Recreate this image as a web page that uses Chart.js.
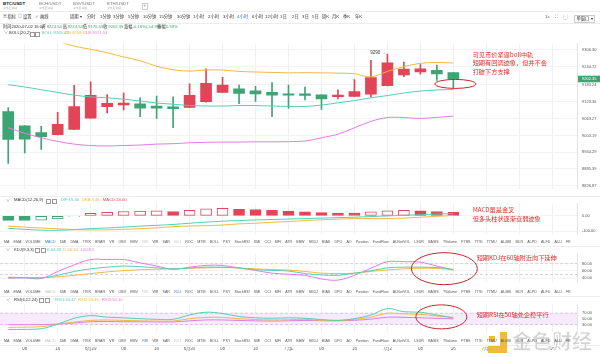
<!DOCTYPE html>
<html lang="zh-CN"><head><meta charset="utf-8">
<script src="https://cdn.jsdelivr.net/npm/chart.js@4.4.1/dist/chart.umd.min.js"></script>
<style>
html,body{margin:0;padding:0;background:#fff}
body{width:600px;height:357px;position:relative;overflow:hidden;font-family:"Liberation Sans","Noto Sans CJK SC",sans-serif;color:#333}
canvas{position:absolute;left:0}
.t{position:absolute;white-space:nowrap;line-height:1}
.hl{position:absolute;left:0;width:600px;height:1px;background:#ededed}
.box{position:absolute;width:3px;height:3px;border:0.6px solid #999}
.names{position:absolute;left:4px;width:567px;display:flex;justify-content:space-between;font-size:3.6px;line-height:1;color:#555;white-space:nowrap}
.ann{position:absolute;color:#e02a2a;font-size:6.2px;line-height:8.8px;white-space:nowrap;font-family:"Noto Sans CJK SC",sans-serif}
</style></head><body>
<canvas id="cMain" width="600" height="160" style="top:36px"></canvas>
<canvas id="cMacd" width="600" height="45" style="top:196px"></canvas>
<canvas id="cKdj" width="600" height="42" style="top:247px"></canvas>
<canvas id="cRsi" width="600" height="42" style="top:297px"></canvas>
<canvas id="cDate" width="600" height="10" style="top:347px"></canvas>

<div class="hl" style="top:11px"></div>
<div class="hl" style="top:23px"></div>
<div class="hl" style="top:196px"></div>
<div class="hl" style="top:246px"></div>
<div class="hl" style="top:296px"></div>
<div class="hl" style="top:345px"></div>

<div class="ann" style="left:472.7px;top:50.6px">可见币价紧逼boll中轨<br>短期有回调迹象，但并不会<br>打破下方支撑</div>
<div class="ann" style="left:472.7px;top:206.3px">MACD虽是金叉<br>但多头柱状逐渐衰弱迹象</div>
<div class="ann" style="left:476.7px;top:254px">短期KDJ在60轴附近向下延伸</div>
<div class="ann" style="left:476.7px;top:310.6px">短期RSI在50轴处企稳平行</div>

<div style="position:absolute;left:488px;top:332px;width:20px;height:21px;opacity:0.9">
  <div style="position:absolute;left:1px;top:4px;width:6px;height:6px;background:#f0b323"></div>
  <div style="position:absolute;left:12px;top:0;width:7px;height:21px;background:#f0b323"></div>
  <div style="position:absolute;left:0;top:14px;width:19px;height:7px;background:#f0b323"></div>
</div>
<div class="t" style="left:512px;top:331px;font-size:20px;font-weight:bold;color:#d2d2d2;font-family:'Noto Sans CJK SC';-webkit-text-stroke:0.6px #fff">金色财经</div>

<script>
// ===== data =====
const timeLabels = ["04","08","12","16","20","6月29","04","08","12","16","20","6月30","04","08","12","16","20","7月1","04","08","12","16","20","7月2","04","08","12","16","20","7月3","04","08","12","16","20"];
const openP  = [9088.0,9037.8,9013.5,9005.9,9025.1,9064.7,9105.0,9111.3,9114.5,9107.2,9104.0,9101.8,9122.2,9155.1,9167.9,9160.6,9155.1,9149.7,9149.7,9146.5,9140.1,9141.3,9148.7,9178.5,9216.8,9227.7,9232.8,9224.54];
const highP  = [9101.8,9038.5,9035.9,9084.8,9179.7,9192.5,9147.8,9152.9,9136.0,9142.3,9139.2,9184.9,9238.2,9208.5,9180.7,9176.5,9189.3,9180.7,9174.3,9147.0,9163.8,9199.9,9267.9,9290.0,9261.6,9253.2,9251.0,9224.54];
const lowP   = [8904.9,8942.0,8954.7,9005.0,9024.0,9064.0,9082.6,9093.5,9069.8,9063.4,9030.5,9101.0,9121.0,9154.0,9115.8,9123.2,9069.8,9098.6,9128.6,9095.4,9131.8,9141.0,9139.2,9178.0,9210.4,9219.1,9197.6,9170.53];
const closeP = [8989.9,8990.5,8999.5,9042.3,9105.0,9144.6,9116.8,9117.7,9099.8,9099.8,9097.6,9144.6,9187.1,9180.7,9151.9,9149.7,9145.5,9145.5,9144.6,9131.8,9145.5,9158.3,9207.2,9259.6,9237.3,9238.2,9220.0,9202.35];
const bollUp  = [9380,9370,9355,9335,9318,9307,9295,9280,9267,9247,9235,9230,9234,9234,9229,9227,9225.5,9224,9224.5,9224,9223,9221,9210,9229,9246,9257.5,9260.6,9258.51];
const bollMid = [9182.3,9174.3,9164.7,9155.1,9145.5,9139.2,9136.0,9131.2,9124.8,9117.7,9113.6,9108.8,9107.2,9107.2,9108.8,9108.8,9107.2,9105.6,9105.6,9110.4,9118.4,9126.4,9136.0,9144.0,9153.0,9160.0,9163.8,9165.02];
const bollLow = [9030.5,9011.3,8995.3,8982.5,8973.0,8968.0,8966.6,8968.0,8969.8,8973.0,8974.5,8977.7,8979.3,8980.0,8980.3,8981.0,8981.0,8981.6,8984.0,8995.3,9008.0,9030.5,9053.0,9066.6,9066.6,9063.4,9067.2,9071.53];
const priceTicks = [9306.30,9244.72,9183.24,9123.36,9063.27,9003.19,8944.29,8885.39,8826.87];

const macdHist = [-29,-29.5,-28,-20,-2,17,24,29,32,32.5,29,36,46,49,43,42,36,32,26,22,19,18,26,33,36,33,29,24];
const macdDif  = [-80,-87,-92,-93,-89,-82,-78,-72,-66,-61,-55,-47,-40,-34,-30,-26,-23,-20,-17,-14,-11,-8,-4,0,4,8,12,15.46];
const macdDea  = [-65.5,-72.3,-78,-83,-88,-90.5,-90,-86.5,-82,-77.3,-69.5,-65,-63,-58.5,-51.5,-47,-41,-36,-30,-25,-20.5,-17,-17,-16.5,-14,-8.5,-2.5,3.46];
const macdTicks = [-100,0];

const kdjK = [41.5,41,40.5,47.8,58.5,65.7,70.4,73.4,71.6,68.6,65.7,68,70.4,70.4,68,63.3,61.5,59.7,52.6,49,47.8,53.8,60.3,68.6,70.4,70.4,69.2,64.48];
const kdjD = [42.5,42,41.5,43.6,47.8,52.6,57.3,60.9,63.3,64.5,65.7,67.4,68.6,69.2,68,65.7,63.9,62.1,58.5,53.8,52.6,53.8,58.5,62.7,65.7,67.4,66.8,63.3];
const kdjJ = [40,41,39,58.5,76.4,91.3,91.3,91.3,82.3,73.4,64.5,70.4,75.2,75.2,68,61.5,53.8,50.8,47.8,37.7,34.7,47.8,67.4,85.3,85.3,84.1,73.4,62.1];
const kdjTicks = [40,60,80];

const rsi1 = [12.2,12.5,15,30.7,52.2,61.5,56.1,53.8,50.7,48.4,48.4,63.8,73.8,69.2,58.4,53.8,52.2,53.8,52.2,47.6,44.5,50.7,63.8,86.9,75.4,73.8,63.8,53.47];
const rsi2 = [19.9,20.5,22,30.7,38.4,44.5,46.1,44.5,43,42.2,42.2,50.7,55.3,55.3,50.7,47.6,46.1,46.8,48.4,45,44.5,48,56,70,68,66.1,60,55.45];
const rsi3 = [29.1,29.1,29.5,31.4,35.3,39.9,40.7,39.9,39.9,39.1,39.1,43,46.1,46.1,44.5,43,42.2,43,44.5,43.5,43,45,49,56.1,55.3,53.8,52,50.10];
const rsiTicks = [30,50,70];

const indicatorNames = ["MA","EMA","VOLUME","MACD","DMI","DMA","TRIX","BRAR","VR","OBV","EMV","RSI","WR","SAR","KDJ","ROC","MTM","BOLL","PSY","StochRSI","SMI","CCI","MFI","ATR","BBW","SKDJ","BIAS","DPO","AO","Position","FundFlow","AI-NetVOL","LSUR","BASIS","TVolume","FTBS","TTSI","TTMU","AI-BSI","MLR","AI-PD","AI-FD","AI-U","FR"];

// ===== colors =====
const RED='#e24557', GREEN='#3da573', TEAL='#55cdb5', YEL='#f2b845', PINK='#e27be6';

// ===== text helpers =====
function T(str,x,y,size,color,extra){const d=document.createElement('div');d.className='t';d.textContent=str;d.style.left=x+'px';d.style.top=(y-size/2)+'px';d.style.fontSize=size+'px';d.style.color=color||'#333';if(extra)Object.assign(d.style,extra);document.body.appendChild(d);return d;}
function B(x,y){const d=document.createElement('div');d.className='box';d.style.left=x+'px';d.style.top=(y-1.8)+'px';document.body.appendChild(d);}

// tabs
[["BTC/USDT",3,'#222',true],["BCH/USDT",39,'#777'],["BSV/USDT",73,'#777'],["ETH/USDT",107,'#777']].forEach(a=>{T(a[0],a[1],4,4.4,a[2],a[3]?{fontWeight:'bold'}:null);T("火币全球站",a[1],8.3,2.8,'#aaa');});
T("+",141.5,5.5,4.5,'#999',{border:'0.6px solid #ccc',padding:'0 1px'});
// toolbar
T("▣",3,17.3,4,'#666');T("指标",7.5,17.3,4.3,'#333');
T("◎",18,17.3,4,'#666');T("设置",23,17.3,4.3,'#333');
T("⇗",35,17.3,4,'#666');T("画线",40,17.3,4.3,'#333');
T("周期 ▾",70,17.3,4.3,'#333');
[["分时",87],["1分钟",100],["3分钟",113],["5分钟",128],["10分钟",143],["15分钟",159],["30分钟",177],["1小时",193],["2小时",208],["3小时",223],["4小时",237],["6小时",252],["12小时",265],["1日",280],["2日",292],["3日",302],["5日",312],["周K",322],["月K",332],["季K",343],["年K",355]].forEach(a=>T(a[0],a[1],17.3,4.3,a[0]==="4小时"?'#2f6fe0':'#333'));
T("1s",545,17.3,4.3,'#555');T("⛶",555,17.3,4.5,'#777');T("▢",563,17.3,4.5,'#777');
T("单窗口 ▾",574,17.3,4.3,'#333',{border:'0.6px solid #ccc',padding:'1px 1.5px',background:'#fafafa'});
// info row
T("时间2020-07-02 16:00",3,26.7,4.2,'#333');
[["开",41.7,"9224.54"],["高",62.7,"9224.54"],["低",83,"9170.53"],["收",103.3,"9202.35"]].forEach(a=>{T(a[0],a[1],26.7,4.2,'#333');T(a[2],a[1]+5,26.7,4.2,GREEN);});
T("涨幅",124,26.7,4.2,'#333');T("-0.16%(-14.98)",132.7,26.7,4.2,GREEN);
T("振幅",157.3,26.7,4.2,'#333');T("0.59%",166,26.7,4.2,GREEN);
// boll row
T("∨",4,33.3,4,'#666');T("BOLL(20,2)",9,33.3,4.2,'#333');B(30,33.3);B(35,33.3);
T("BOLL:9165.02",41.7,33.3,4.2,TEAL);T("UB:9258.51",65,33.3,4.2,YEL);T("LB:9071.53",86,33.3,4.2,PINK);
// panel headers
T("∨",6,200.5,4,'#666');T("MACD(12,26,9)",14,200.5,4.2,'#333');B(46,200.5);B(51.5,200.5);
T("DIF:15.46",60.7,200.5,4.2,TEAL);T("DEA:3.46",81.7,200.5,4.2,YEL);T("MACD:24.00",102.7,200.5,4.2,RED);
T("∨",6,250,4,'#666');T("KDJ(9,3,3)",14,250,4.2,'#333');B(35,250);B(40.5,250);
T("K:64.48",46.7,250,4.2,TEAL);T("D:56.30",63.3,250,4.2,YEL);T("J:60.83",80,250,4.2,PINK);
T("∨",6,300,4,'#666');T("RSI(6,12,24)",14,300,4.2,'#333');B(39,300);B(44.5,300);
T("RSI1:53.47",55,300,4.2,TEAL);T("RSI2:55.45",78,300,4.2,YEL);T("RSI3:50.10",101.7,300,4.2,PINK);

// indicator name rows
function nameRow(y,active,used){const r=document.createElement('div');r.className='names';r.style.top=(y-1.8)+'px';indicatorNames.forEach(n=>{const s=document.createElement('span');s.textContent=n;if(n===active)s.style.color='#2f7be0';else if(used.includes(n))s.style.color='#c4c4c4';r.appendChild(s);});document.body.appendChild(r);}
nameRow(242.7,'MACD',['KDJ','RSI']);
nameRow(292.7,'KDJ',['MACD','RSI']);
nameRow(341.7,'RSI',['MACD','KDJ']);

// ===== charts =====
const N = closeP.length;
const upFlags = closeP.map((c,i)=>c>=openP[i]);
const candleColors = upFlags.map(u=>u?RED:GREEN);

function xAxis(){return {type:'category',labels:timeLabels,offset:true,
  grid:{offset:false,drawTicks:false,color:c=>(c.index%2===1)?'#f0f0f0':'rgba(0,0,0,0)'},
  border:{display:false},ticks:{display:false},afterFit:s=>{s.height=0;}};}
function yAxis(min,max,vals){return {position:'right',min:min,max:max,
  afterFit:s=>{s.width=23;},
  afterBuildTicks:s=>{s.ticks=vals.map(v=>({value:v}));},
  grid:{drawTicks:false,color:'#f3f3f3'},border:{display:true,color:'#e2e2e2'},
  ticks:{padding:5,color:'#555',font:{size:4,family:'Liberation Sans'},callback:v=>Number(v).toFixed(2)}};}
const baseOpts = (scales,extra)=>Object.assign({responsive:false,animation:false,devicePixelRatio:1,
  layout:{padding:{left:-1,right:0,top:0,bottom:0}},
  plugins:{legend:{display:false},tooltip:{enabled:false}},scales:scales},extra||{});
const line = (data,color,order)=>({type:'line',data:data,borderColor:color,borderWidth:1,pointRadius:0,tension:0.35,fill:false,order:order||0});

function ellipse(ctx,x,y,rx,ry){ctx.save();ctx.strokeStyle='#c9252d';ctx.lineWidth=1;ctx.beginPath();ctx.ellipse(x,y,rx,ry,0,0,Math.PI*2);ctx.stroke();ctx.restore();}

const mainDeco = {id:'mainDeco',
  afterDatasetsDraw(chart){
    const {ctx,scales:{x,y}} = chart;
    let hi=0; highP.forEach((v,i)=>{if(v>highP[hi])hi=i;});
    const hx=x.getPixelForValue(hi), hy=y.getPixelForValue(highP[hi]);
    ctx.save();ctx.font='4.5px "Liberation Sans"';ctx.fillStyle='#333';ctx.textAlign='right';ctx.textBaseline='middle';
    ctx.fillText(Math.round(highP[hi])+' →',hx-1.5,hy-1);ctx.restore();
    ellipse(ctx,x.getPixelForValue(N-1)+2,y.getPixelForValue(9185),20.5,4.5);
  },
  afterDraw(chart){
    const {ctx,scales:{y}} = chart; const last=closeP[N-1]; const py=y.getPixelForValue(last);
    ctx.save();ctx.fillStyle=GREEN;ctx.fillRect(578,py-3.3,22,6.6);
    ctx.fillStyle='#fff';ctx.font='4px "Liberation Sans"';ctx.textBaseline='middle';ctx.textAlign='left';
    ctx.fillText(last.toFixed(2),582,py);ctx.restore();
  }};

new Chart(document.getElementById('cMain'),{type:'bar',
  data:{labels:timeLabels,datasets:[
    line(bollUp,YEL,0),line(bollMid,TEAL,0),line(bollLow,PINK,0),
    {type:'bar',data:openP.map((o,i)=>[o,closeP[i]]),backgroundColor:candleColors,barThickness:11,grouped:false,minBarLength:1,order:1},
    {type:'bar',data:lowP.map((l,i)=>[l,highP[i]]),backgroundColor:candleColors,barThickness:1,grouped:false,order:2}
  ]},
  options:baseOpts({x:xAxis(),y:yAxis(8816.32,9327.71,priceTicks)}),
  plugins:[mainDeco]});

const macdFill = macdHist.map((v,i)=>{const hollow=(i>0&&v>macdHist[i-1]);return hollow?'#ffffff':(v>=0?RED:GREEN);});
const macdBorder = macdHist.map(v=>v>=0?RED:GREEN);
new Chart(document.getElementById('cMacd'),{type:'bar',
  data:{labels:timeLabels,datasets:[
    line(macdDif,TEAL,0),line(macdDea,YEL,0),
    {type:'bar',data:macdHist,backgroundColor:macdFill,borderColor:macdBorder,borderWidth:1,borderSkipped:false,barThickness:11,order:1}
  ]},
  options:baseOpts({x:xAxis(),y:yAxis(-114.35,81.3,macdTicks)})});

const kdjDeco = {id:'kdjDeco',
  beforeDatasetsDraw(chart){const {ctx,chartArea:a,scales:{y}}=chart;ctx.save();ctx.setLineDash([3,2]);ctx.strokeStyle='#cccccc';ctx.lineWidth=0.8;
    [80,50].forEach(v=>{const py=y.getPixelForValue(v);ctx.beginPath();ctx.moveTo(a.left,py);ctx.lineTo(a.right,py);ctx.stroke();});ctx.restore();},
  afterDraw(chart){const {ctx,scales:{x,y}}=chart;ellipse(ctx,x.getPixelForValue(N-1)-9,y.getPixelForValue(66.2),33,16);}};
new Chart(document.getElementById('cKdj'),{type:'line',
  data:{labels:timeLabels,datasets:[line(kdjK,TEAL),line(kdjD,YEL),line(kdjJ,PINK)]},
  options:baseOpts({x:xAxis(),y:yAxis(30.54,105.54,kdjTicks)}),plugins:[kdjDeco]});

const rsiDeco = {id:'rsiDeco',
  beforeDatasetsDraw(chart){const {ctx,chartArea:a,scales:{y}}=chart;const y70=y.getPixelForValue(70),y30=y.getPixelForValue(30);
    ctx.save();ctx.fillStyle='#f6ebfb';ctx.fillRect(a.left,y70,a.right-a.left,y30-y70);
    ctx.setLineDash([3,2]);ctx.strokeStyle='#d9b2ea';ctx.lineWidth=0.8;
    [y70,y30].forEach(py=>{ctx.beginPath();ctx.moveTo(a.left,py);ctx.lineTo(a.right,py);ctx.stroke();});ctx.restore();},
  afterDraw(chart){const {ctx,scales:{x,y}}=chart;ellipse(ctx,x.getPixelForValue(N-1)-12,y.getPixelForValue(57.1),25.5,12);}};
new Chart(document.getElementById('cRsi'),{type:'line',
  data:{labels:timeLabels,datasets:[line(rsi1,TEAL),line(rsi2,YEL),line(rsi3,PINK)]},
  options:baseOpts({x:xAxis(),y:yAxis(4.57,101.68,rsiTicks)}),plugins:[rsiDeco]});

new Chart(document.getElementById('cDate'),{type:'bar',
  data:{labels:timeLabels,datasets:[]},
  options:baseOpts({
    x:{type:'category',labels:timeLabels,offset:true,position:'top',grid:{display:false,drawTicks:false},border:{display:false},
       ticks:{autoSkip:false,maxRotation:0,padding:1,color:'#666',font:{size:4.5,family:'Liberation Sans'},callback:(v,i)=>(i%2===1)?timeLabels[i]:''}},
    y:{display:false}},{layout:{padding:{left:-1,right:23,top:0,bottom:0}}})});
</script>
</body></html>
